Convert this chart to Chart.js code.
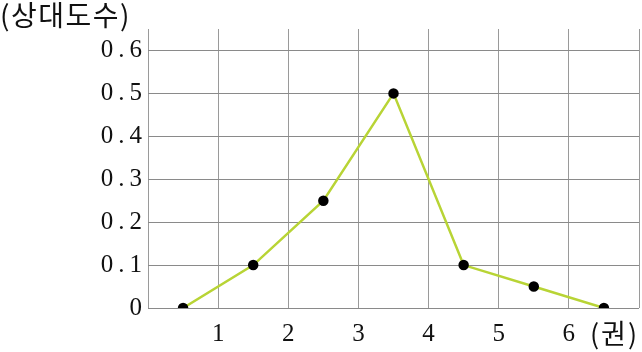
<!DOCTYPE html>
<html><head><meta charset="utf-8">
<script src="https://cdn.jsdelivr.net/npm/chart.js@4"></script>
<style>html,body{margin:0;padding:0;background:#fff}#w{width:642px;height:352px}</style>
</head><body><div id="w"><canvas id="c"></canvas></div>
<script>
const classMarks = [0.5, 1.5, 2.5, 3.5, 4.5, 5.5, 6.5];
const relFreq = [0, 0.1, 0.25, 0.5, 0.1, 0.05, 0];
const xTickLabels = ['1','2','3','4','5','6'];
const yTickLabels = ['0','0.1','0.2','0.3','0.4','0.5','0.6'];
const yAxisTitle = '(상대도수)';
const xAxisTitle = '(권)';

const serif = "'Liberation Serif', 'DejaVu Serif', serif";
const spacing = {
  id: 'spacing',
  beforeDraw(chart) { chart.ctx.letterSpacing = '5px'; },
  afterDraw(chart) { chart.ctx.letterSpacing = '0px'; }
};
const titles = {
  id: 'titles',
  afterDraw(chart) {
    const ctx = chart.ctx;
    ctx.save();
    ctx.letterSpacing = '1.5px';
    ctx.fillStyle = '#111';
    ctx.font = "28px 'Noto Sans CJK KR', 'Noto Sans CJK SC', sans-serif";
    ctx.textBaseline = 'middle';
    ctx.textAlign = 'left';
    ctx.fillText(yAxisTitle, 0, 15);
    const xs = chart.scales.x;
    ctx.letterSpacing = '2px';
    ctx.font = "27px 'Noto Sans CJK KR', 'Noto Sans CJK SC', sans-serif";
    ctx.fillText(xAxisTitle, xs.getPixelForValue(6.5) - 14, 334);
    ctx.restore();
  }
};
new Chart(document.getElementById('c'), {
  type: 'line',
  data: {
    datasets: [{
      data: classMarks.map((x, i) => ({x, y: relFreq[i]})),
      borderColor: '#b8d435',
      borderWidth: 2.5,
      pointBackgroundColor: '#000',
      pointBorderColor: '#000',
      pointRadius: 4,
      tension: 0
    }]
  },
  options: {
    responsive: true, maintainAspectRatio: false, animation: false,
    layout: {autoPadding: false, padding: {top: 29, right: 3, left: 0, bottom: 0}},
    plugins: {legend: {display: false}, tooltip: {enabled: false}},
    scales: {
      x: {
        type: 'linear', min: 0, max: 7,
        afterFit(s) { s.height = 44; s.paddingRight = 0; s.paddingLeft = 0; },
        border: {display: false},
        grid: {color: '#9a9a9a', lineWidth: 1, drawTicks: false},
        ticks: {
          stepSize: 1, padding: 11, color: '#111', maxRotation: 0, labelOffset: 2.5,
          font: {family: serif, size: 25},
          callback: v => (v >= 1 && v <= 6) ? xTickLabels[v - 1] : ''
        }
      },
      y: {
        type: 'linear', min: 0, max: 0.65,
        afterFit(s) { s.width = 148; s.paddingTop = 0; s.paddingBottom = 0; },
        border: {display: false},
        grid: {
          drawTicks: false, lineWidth: 1,
          color: c => {
            const k = Math.round(c.tick.value * 20);
            return k % 2 === 0 ? '#8a8a8a' : '#bdbdbd';
          }
        },
        ticks: {
          stepSize: 0.05, padding: 1, color: '#111',
          font: {family: serif, size: 25},
          callback: v => {
            const k = Math.round(v * 20);
            return (k % 2 === 0 && k <= 12) ? yTickLabels[k / 2] : '';
          }
        }
      }
    }
  },
  plugins: [spacing, titles]
});
</script></body></html>
